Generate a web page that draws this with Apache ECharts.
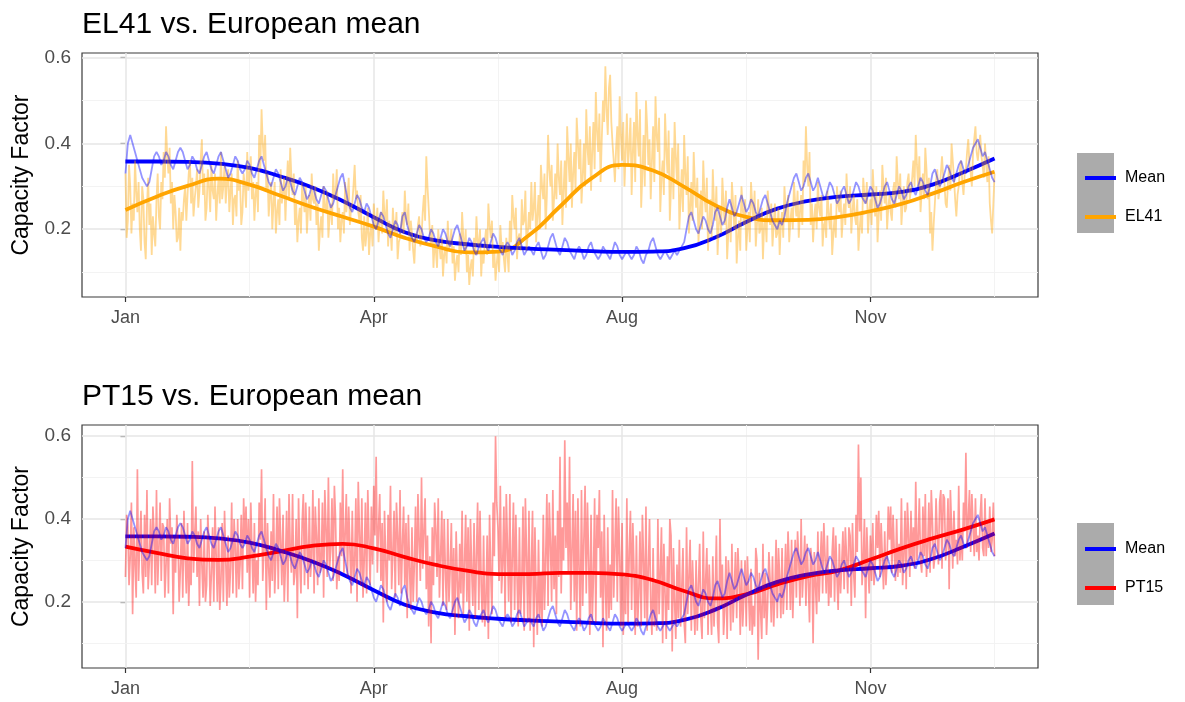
<!DOCTYPE html>
<html><head><meta charset="utf-8">
<script src="https://cdn.jsdelivr.net/npm/echarts@6/dist/echarts.min.js"></script>
<style>html,body{margin:0;padding:0;background:#fff}#c{width:1185px;height:702px}</style>
</head><body><div id="c"></div>
<script>
// Daily European mean capacity factor (day index 0..364)
const meanDaily = [
0.33,0.40,0.42,0.40,0.38,0.36,0.34,0.32,0.31,0.30,
0.31,0.34,0.37,0.38,0.37,0.35,0.36,0.38,0.37,0.35,
0.34,0.36,0.38,0.39,0.38,0.36,0.34,0.35,0.37,0.36,
0.34,0.33,0.35,0.37,0.38,0.36,0.34,0.33,0.35,0.37,
0.38,0.36,0.34,0.32,0.33,0.35,0.37,0.36,0.34,0.33,
0.34,0.36,0.35,0.33,0.32,0.34,0.36,0.37,0.35,0.33,
0.31,0.30,0.32,0.34,0.33,0.31,0.29,0.30,0.32,0.31,
0.29,0.28,0.30,0.32,0.31,0.29,0.27,0.28,0.30,0.29,
0.27,0.26,0.28,0.30,0.29,0.27,0.25,0.26,0.28,0.30,
0.32,0.33,0.30,0.27,0.25,0.24,0.26,0.28,0.27,0.25,
0.24,0.26,0.25,0.23,0.21,0.20,0.22,0.24,0.23,0.21,
0.19,0.18,0.20,0.22,0.21,0.19,0.23,0.24,0.21,0.19,
0.18,0.17,0.19,0.21,0.20,0.18,0.17,0.18,0.20,0.19,
0.17,0.16,0.18,0.20,0.19,0.17,0.16,0.18,0.20,0.21,
0.19,0.17,0.15,0.16,0.18,0.17,0.15,0.14,0.16,0.17,
0.18,0.16,0.15,0.17,0.19,0.18,0.16,0.15,0.14,0.16,
0.17,0.16,0.14,0.15,0.17,0.18,0.16,0.14,0.15,0.16,
0.15,0.14,0.16,0.17,0.15,0.13,0.14,0.16,0.18,0.19,
0.17,0.15,0.14,0.16,0.18,0.17,0.15,0.14,0.13,0.15,
0.16,0.15,0.13,0.14,0.16,0.17,0.15,0.14,0.13,0.14,
0.16,0.15,0.14,0.13,0.15,0.17,0.16,0.14,0.13,0.14,
0.15,0.14,0.13,0.14,0.16,0.15,0.13,0.12,0.14,0.15,
0.17,0.18,0.16,0.14,0.13,0.14,0.15,0.14,0.13,0.14,
0.15,0.14,0.15,0.16,0.17,0.20,0.23,0.24,0.22,0.20,
0.19,0.21,0.23,0.22,0.20,0.19,0.21,0.24,0.25,0.23,
0.21,0.22,0.25,0.27,0.25,0.23,0.24,0.26,0.28,0.26,
0.24,0.25,0.27,0.26,0.24,0.23,0.25,0.27,0.28,0.26,
0.24,0.22,0.21,0.20,0.22,0.21,0.23,0.26,0.28,0.30,
0.32,0.33,0.31,0.29,0.30,0.32,0.33,0.31,0.29,0.30,
0.32,0.30,0.28,0.27,0.29,0.31,0.30,0.28,0.26,0.27,
0.29,0.30,0.28,0.26,0.27,0.29,0.31,0.30,0.28,0.27,
0.26,0.28,0.30,0.29,0.27,0.25,0.26,0.28,0.30,0.31,
0.29,0.27,0.26,0.28,0.30,0.29,0.27,0.28,0.30,0.31,
0.29,0.28,0.30,0.32,0.31,0.29,0.28,0.30,0.33,0.34,
0.32,0.30,0.31,0.33,0.35,0.34,0.32,0.31,0.33,0.35,
0.36,0.34,0.33,0.35,0.37,0.39,0.40,0.41,0.39,0.37,
0.38,0.36,0.34,0.32,0.31];

// EL41 capacity factor, readings at day i (00h)
const el41Daily = [
0.33,0.22,0.30,0.26,0.36,0.24,0.20,0.30,0.17,0.25,
0.21,0.14,0.19,0.27,0.23,0.31,0.38,0.44,0.33,0.26,
0.20,0.24,0.18,0.15,0.22,0.30,0.28,0.36,0.32,0.27,
0.34,0.29,0.41,0.33,0.25,0.30,0.35,0.27,0.22,0.32,
0.38,0.30,0.26,0.34,0.29,0.21,0.28,0.36,0.31,0.24,
0.30,0.38,0.33,0.27,0.22,0.31,0.42,0.48,0.36,0.29,
0.23,0.31,0.26,0.19,0.27,0.34,0.29,0.22,0.36,0.39,
0.28,0.21,0.17,0.25,0.31,0.24,0.19,0.28,0.33,0.26,
0.21,0.15,0.23,0.30,0.24,0.18,0.26,0.33,0.28,0.20,
0.17,0.24,0.31,0.27,0.21,0.26,0.35,0.29,0.22,0.18,
0.23,0.19,0.14,0.21,0.26,0.20,0.17,0.24,0.29,0.22,
0.16,0.20,0.25,0.19,0.13,0.18,0.24,0.29,0.21,0.15,
0.19,0.12,0.17,0.23,0.18,0.28,0.37,0.25,0.16,0.11,
0.15,0.20,0.13,0.09,0.16,0.22,0.17,0.12,0.08,0.14,
0.19,0.24,0.15,0.10,0.07,0.13,0.18,0.23,0.16,0.09,
0.12,0.20,0.26,0.18,0.11,0.08,0.15,0.21,0.17,0.10,
0.14,0.22,0.28,0.20,0.13,0.19,0.27,0.22,0.15,0.24,
0.31,0.25,0.17,0.28,0.35,0.27,0.20,0.42,0.30,0.22,
0.33,0.40,0.28,0.21,0.36,0.44,0.31,0.25,0.38,0.46,
0.34,0.26,0.40,0.48,0.35,0.29,0.45,0.52,0.38,0.31,
0.50,0.58,0.42,0.56,0.40,0.31,0.44,0.51,0.36,0.30,
0.47,0.39,0.28,0.45,0.52,0.37,0.25,0.42,0.50,0.35,
0.27,0.44,0.51,0.38,0.24,0.36,0.47,0.33,0.22,0.39,
0.45,0.31,0.20,0.34,0.42,0.28,0.19,0.31,0.38,0.25,
0.17,0.29,0.36,0.24,0.15,0.27,0.34,0.22,0.14,0.25,
0.32,0.21,0.13,0.24,0.31,0.20,0.12,0.22,0.30,0.21,
0.15,0.24,0.31,0.22,0.16,0.27,0.20,0.13,0.23,0.29,
0.21,0.16,0.26,0.19,0.14,0.24,0.30,0.22,0.17,0.25,
0.31,0.23,0.18,0.28,0.36,0.44,0.30,0.21,0.17,0.26,
0.31,0.23,0.16,0.22,0.29,0.20,0.14,0.23,0.30,0.24,
0.18,0.26,0.33,0.25,0.19,0.28,0.21,0.15,0.24,0.32,
0.26,0.19,0.27,0.34,0.23,0.17,0.29,0.35,0.26,0.20,
0.28,0.22,0.31,0.37,0.27,0.21,0.30,0.25,0.33,0.29,
0.36,0.42,0.30,0.24,0.33,0.39,0.27,0.19,0.15,0.26,
0.34,0.29,0.37,0.31,0.25,0.35,0.40,0.32,0.23,0.30,
0.36,0.28,0.34,0.41,0.33,0.38,0.44,0.36,0.42,0.35,
0.40,0.31,0.26,0.19,0.33];

// EL41 capacity factor, readings at day i + 0.5 (12h), i = 0..363
const el41Mid = [
0.18,0.35,0.19,0.22,0.29,0.31,0.15,0.27,0.13,0.32,
0.26,0.23,0.16,0.33,0.20,0.27,0.32,0.37,0.39,0.31,
0.28,0.17,0.25,0.24,0.27,0.22,0.33,0.26,0.23,0.30,
0.25,0.36,0.28,0.22,0.34,0.24,0.29,0.33,0.28,0.26,
0.27,0.35,0.31,0.24,0.33,0.27,0.23,0.29,0.21,0.33,
0.25,0.29,0.37,0.31,0.28,0.24,0.34,0.40,0.42,0.33,
0.28,0.20,0.31,0.24,0.21,0.26,0.32,0.30,0.27,0.32,
0.33,0.26,0.22,0.19,0.27,0.30,0.25,0.22,0.27,0.30,
0.26,0.20,0.18,0.25,0.29,0.23,0.21,0.27,0.34,0.25,
0.22,0.19,0.24,0.32,0.25,0.30,0.27,0.24,0.28,0.15,
0.16,0.25,0.19,0.16,0.22,0.25,0.22,0.19,0.23,0.27,
0.22,0.15,0.20,0.24,0.17,0.21,0.19,0.23,0.26,0.22,
0.15,0.19,0.21,0.16,0.24,0.22,0.30,0.19,0.21,0.17,
0.11,0.16,0.18,0.14,0.12,0.15,0.20,0.16,0.12,0.10,
0.14,0.18,0.20,0.14,0.11,0.09,0.14,0.17,0.20,0.15,
0.17,0.14,0.21,0.22,0.15,0.12,0.10,0.16,0.13,0.18,
0.10,0.17,0.23,0.25,0.18,0.15,0.21,0.29,0.19,0.20,
0.22,0.31,0.23,0.20,0.30,0.33,0.28,0.34,0.35,0.27,
0.27,0.32,0.36,0.29,0.25,0.37,0.40,0.33,0.29,0.40,
0.41,0.32,0.30,0.39,0.44,0.38,0.34,0.43,0.47,0.41,
0.45,0.48,0.53,0.45,0.36,0.39,0.34,0.42,0.45,0.38,
0.35,0.46,0.38,0.31,0.42,0.48,0.33,0.30,0.44,0.41,
0.36,0.31,0.42,0.46,0.32,0.28,0.39,0.43,0.30,0.27,
0.37,0.40,0.27,0.24,0.33,0.37,0.25,0.22,0.30,0.32,
0.23,0.20,0.28,0.32,0.22,0.18,0.26,0.30,0.21,0.19,
0.26,0.29,0.19,0.17,0.26,0.28,0.18,0.15,0.25,0.27,
0.20,0.17,0.26,0.29,0.21,0.19,0.25,0.21,0.17,0.25,
0.26,0.21,0.18,0.25,0.21,0.18,0.25,0.28,0.22,0.20,
0.26,0.29,0.24,0.21,0.31,0.35,0.38,0.26,0.23,0.20,
0.25,0.28,0.21,0.18,0.24,0.26,0.19,0.18,0.26,0.29,
0.23,0.21,0.27,0.30,0.24,0.23,0.27,0.20,0.19,0.28,
0.31,0.24,0.21,0.28,0.30,0.23,0.22,0.30,0.32,0.25,
0.24,0.29,0.25,0.31,0.33,0.26,0.24,0.31,0.27,0.32,
0.30,0.35,0.37,0.29,0.27,0.34,0.32,0.24,0.21,0.31,
0.27,0.33,0.32,0.26,0.31,0.29,0.36,0.27,0.28,0.34,
0.31,0.33,0.38,0.35,0.30,0.41,0.38,0.39,0.37,0.32,
0.35,0.37,0.22,0.26];

// PT15 capacity factor, readings at day i (00h)
const pt15Daily = [
0.26,0.38,0.31,0.17,0.29,0.52,0.35,0.27,0.41,0.47,
0.30,0.24,0.36,0.47,0.33,0.25,0.38,0.29,0.22,0.34,
0.17,0.27,0.35,0.28,0.21,0.31,0.39,0.30,0.54,0.36,
0.26,0.19,0.29,0.37,0.24,0.33,0.27,0.20,0.31,0.38,
0.25,0.20,0.30,0.36,0.28,0.22,0.33,0.40,0.29,0.23,
0.35,0.27,0.21,0.32,0.39,0.30,0.44,0.52,0.33,0.18,
0.28,0.37,0.46,0.31,0.23,0.35,0.41,0.29,0.20,0.33,
0.46,0.27,0.16,0.30,0.39,0.24,0.34,0.43,0.31,0.22,
0.36,0.45,0.29,0.21,0.38,0.50,0.33,0.25,0.40,0.31,
0.44,0.52,0.36,0.26,0.33,0.42,0.29,0.20,0.37,0.45,
0.30,0.22,0.35,0.43,0.48,0.55,0.38,0.25,0.15,0.30,
0.41,0.48,0.32,0.21,0.36,0.47,0.34,0.24,0.16,0.28,
0.38,0.29,0.20,0.35,0.50,0.37,0.23,0.14,0.10,0.24,
0.37,0.45,0.31,0.19,0.27,0.40,0.28,0.17,0.12,0.25,
0.34,0.42,0.29,0.20,0.13,0.28,0.39,0.31,0.18,0.24,
0.36,0.20,0.11,0.27,0.44,0.60,0.38,0.48,0.29,0.16,
0.33,0.46,0.30,0.18,0.26,0.38,0.25,0.13,0.31,0.42,
0.28,0.09,0.22,0.35,0.27,0.41,0.30,0.19,0.34,0.47,
0.36,0.42,0.55,0.38,0.59,0.44,0.55,0.32,0.20,0.13,
0.28,0.47,0.35,0.22,0.30,0.41,0.26,0.15,0.33,0.21,
0.09,0.24,0.38,0.29,0.47,0.33,0.20,0.31,0.39,0.26,
0.45,0.32,0.18,0.27,0.36,0.22,0.14,0.30,0.43,0.28,
0.19,0.33,0.25,0.40,0.27,0.10,0.22,0.31,0.40,0.08,
0.20,0.29,0.35,0.23,0.15,0.38,0.26,0.13,0.21,0.30,
0.24,0.16,0.37,0.25,0.12,0.20,0.31,0.22,0.15,0.40,
0.29,0.18,0.11,0.24,0.34,0.23,0.16,0.26,0.30,0.21,
0.14,0.22,0.28,0.19,0.33,0.06,0.18,0.34,0.27,0.20,
0.25,0.31,0.22,0.16,0.26,0.33,0.24,0.18,0.29,0.35,
0.27,0.21,0.30,0.40,0.28,0.19,0.25,0.33,0.10,0.24,
0.37,0.29,0.22,0.31,0.36,0.27,0.32,0.20,0.26,0.34,
0.29,0.23,0.31,0.38,0.19,0.27,0.41,0.58,0.50,0.30,
0.16,0.29,0.36,0.39,0.28,0.33,0.26,0.31,0.37,0.30,
0.35,0.27,0.32,0.40,0.34,0.45,0.31,0.23,0.36,0.42,
0.38,0.49,0.35,0.30,0.43,0.46,0.33,0.27,0.39,0.31,
0.36,0.44,0.28,0.45,0.34,0.23,0.38,0.42,0.35,0.48,
0.37,0.44,0.56,0.40,0.32,0.38,0.45,0.36,0.41,0.33,
0.45,0.39,0.43,0.35,0.31];

// PT15 capacity factor, readings at day i + 0.5 (12h), i = 0..363
const pt15Mid = [
0.41,0.24,0.44,0.38,0.21,0.25,0.42,0.22,0.26,0.23,
0.40,0.43,0.22,0.24,0.44,0.39,0.21,0.40,0.45,0.38,
0.36,0.41,0.20,0.39,0.42,0.22,0.19,0.24,0.27,0.43,
0.37,0.40,0.21,0.20,0.41,0.19,0.38,0.43,0.20,0.18,
0.39,0.42,0.19,0.21,0.44,0.40,0.21,0.23,0.41,0.45,
0.43,0.40,0.44,0.22,0.20,0.24,0.35,0.25,0.45,0.39,
0.21,0.25,0.22,0.43,0.45,0.24,0.20,0.42,0.46,0.27,
0.24,0.40,0.45,0.22,0.46,0.44,0.23,0.26,0.47,0.43,
0.24,0.27,0.44,0.47,0.26,0.28,0.45,0.48,0.23,0.25,
0.31,0.27,0.46,0.43,0.22,0.25,0.45,0.49,0.24,0.21,
0.44,0.47,0.24,0.29,0.36,0.27,0.46,0.39,0.42,0.20,
0.30,0.23,0.42,0.44,0.24,0.22,0.43,0.39,0.41,0.18,
0.20,0.43,0.46,0.25,0.28,0.45,0.36,0.31,0.38,0.44,
0.26,0.21,0.42,0.40,0.18,0.20,0.39,0.33,0.37,0.16,
0.22,0.17,0.41,0.38,0.40,0.19,0.16,0.44,0.42,0.15,
0.14,0.36,0.41,0.17,0.31,0.44,0.25,0.22,0.43,0.46,
0.20,0.15,0.44,0.41,0.14,0.17,0.43,0.45,0.15,0.13,
0.42,0.38,0.12,0.16,0.14,0.18,0.46,0.44,0.20,0.23,
0.17,0.26,0.22,0.30,0.33,0.27,0.18,0.46,0.42,0.45,
0.14,0.19,0.48,0.44,0.12,0.15,0.45,0.41,0.47,0.37,
0.41,0.13,0.16,0.18,0.21,0.45,0.43,0.14,0.12,0.17,
0.15,0.42,0.39,0.12,0.14,0.37,0.41,0.16,0.13,0.40,
0.12,0.14,0.13,0.17,0.38,0.34,0.11,0.18,0.36,0.33,
0.11,0.16,0.14,0.33,0.10,0.17,0.35,0.30,0.12,0.13,
0.34,0.11,0.16,0.33,0.29,0.12,0.14,0.36,0.10,0.19,
0.12,0.31,0.30,0.13,0.15,0.32,0.33,0.12,0.14,0.30,
0.31,0.13,0.12,0.14,0.30,0.27,0.11,0.16,0.12,0.32,
0.15,0.14,0.35,0.33,0.16,0.17,0.34,0.37,0.18,0.16,
0.35,0.37,0.19,0.21,0.36,0.34,0.15,0.30,0.32,0.17,
0.20,0.37,0.39,0.22,0.19,0.21,0.38,0.36,0.18,0.22,
0.37,0.38,0.22,0.36,0.39,0.21,0.32,0.37,0.24,0.40,
0.38,0.22,0.25,0.24,0.41,0.42,0.39,0.23,0.24,0.43,
0.43,0.41,0.25,0.26,0.27,0.24,0.42,0.44,0.26,0.29,
0.28,0.30,0.45,0.27,0.31,0.26,0.44,0.47,0.28,0.45,
0.29,0.47,0.46,0.30,0.45,0.47,0.28,0.31,0.29,0.30,
0.30,0.37,0.33,0.47,0.46,0.31,0.32,0.30,0.46,0.31,
0.31,0.33,0.32,0.44];

// Smoothed (loess) curves, sampled every 13 days
const smoothDays = [0,13,26,39,52,65,78,91,104,117,130,143,156,169,182,195,208,221,234,247,260,273,286,299,312,325,338,351,364];
const meanSmooth = [0.358,0.358,0.357,0.353,0.343,0.323,0.298,0.266,0.228,0.193,0.174,0.165,0.159,0.155,0.152,0.149,0.147,0.148,0.156,0.181,0.217,0.248,0.266,0.276,0.281,0.287,0.304,0.333,0.365];
const el41Smooth = [0.245,0.276,0.301,0.318,0.304,0.278,0.252,0.229,0.206,0.180,0.160,0.146,0.148,0.186,0.253,0.318,0.350,0.337,0.299,0.256,0.229,0.221,0.222,0.229,0.242,0.259,0.283,0.310,0.334];
const pt15Smooth = [0.333,0.318,0.305,0.301,0.309,0.322,0.335,0.340,0.329,0.308,0.289,0.275,0.267,0.267,0.270,0.270,0.266,0.252,0.226,0.208,0.218,0.242,0.262,0.276,0.302,0.329,0.353,0.375,0.399];

// Axis ticks
const xTickDays = [0,104,208,312];
const xTickLabels = ['Jan','Apr','Aug','Nov'];
const xMinorDays = [52,156,260,364];
const yTicks = [0.2,0.4,0.6];
const yMinor = [0.1,0.3,0.5];

const X_MIN = -18.2, X_MAX = 382.2;
const Y_RANGES = [[0.042,0.611],[0.040,0.627]];

const FONT = 'Liberation Sans, Arial, Helvetica, sans-serif';

function daily(arr){ return arr.map((v,i)=>[i,v]); }
function twiceDaily(day, mid){
  const out = [];
  day.forEach((v,i)=>{ out.push([i,v]); if(i<mid.length) out.push([i+0.5, mid[i]]); });
  return out;
}
function smooth(vals){ return smoothDays.map((d,i)=>[d,vals[i]]); }

const chart = echarts.init(document.getElementById('c'), null, {renderer:'canvas'});

const grids = [
  {left:82, top:53, width:956, height:244},
  {left:82, top:425, width:956, height:243}
].map(g=>Object.assign({show:true, borderColor:'#3a3a3a', borderWidth:1.2, backgroundColor:'#fff'}, g));

const xAxes = [0,1].map(i=>({
  type:'value', gridIndex:i, min:X_MIN, max:X_MAX,
  axisLine:{show:false},
  splitLine:{show:false},
  axisTick:{show:true, customValues:xTickDays, length:5, lineStyle:{color:'#333', width:1.2}},
  axisLabel:{show:true, customValues:xTickDays, margin:12, fontSize:18, color:'#4d4d4d', fontFamily:FONT,
    formatter:(v)=>{const k=xTickDays.indexOf(Math.round(v)); return k>=0?xTickLabels[k]:'';}}
}));

const yAxes = [0,1].map(i=>({
  type:'value', gridIndex:i, min:Y_RANGES[i][0], max:Y_RANGES[i][1],
  axisLine:{show:false},
  splitLine:{show:false},
  axisTick:{show:true, customValues:yTicks, length:5, lineStyle:{color:'#333', width:1.2}},
  axisLabel:{show:true, customValues:yTicks, margin:11, fontSize:19, color:'#4d4d4d', fontFamily:FONT,
    formatter:(v)=>v.toFixed(1)},
  name:'Capacity Factor', nameLocation:'middle', nameGap:49, nameRotate:90,
  nameTextStyle:{fontSize:23, color:'#000', fontFamily:FONT}
}));

function gridSeries(i){
  const major = {color:'#e6e6e6', width:1.5, type:'solid'};
  const minor = {color:'#f2f2f2', width:0.9, type:'solid'};
  const data = [];
  xTickDays.forEach(d=>data.push({xAxis:d, lineStyle:major}));
  xMinorDays.forEach(d=>data.push({xAxis:d, lineStyle:minor}));
  yTicks.forEach(v=>data.push({yAxis:v, lineStyle:major}));
  yMinor.forEach(v=>data.push({yAxis:v, lineStyle:minor}));
  return {type:'line', name:'grid'+i, xAxisIndex:i, yAxisIndex:i, data:[], z:1, silent:true,
    markLine:{silent:true, z:1, symbol:['none','none'], label:{show:false}, animation:false, data:data}};
}

function panel(i, regionName, regionDaily, regionMid, regionSmooth, solid, translucent, w){
  return [
    gridSeries(i),
    {type:'line', name:regionName, color:solid, xAxisIndex:i, yAxisIndex:i, data:smooth(regionSmooth), smooth:true, showSymbol:false, lineStyle:{color:solid, width:3.8}, z:3},
    {type:'line', name:'Mean', color:'#0000ff', xAxisIndex:i, yAxisIndex:i, data:smooth(meanSmooth), smooth:true, showSymbol:false, lineStyle:{color:'#0000ff', width:3.8}, z:3},
    {type:'line', name:regionName+' daily', xAxisIndex:i, yAxisIndex:i, data:twiceDaily(regionDaily, regionMid), showSymbol:false, sampling:null, lineStyle:{color:translucent, width:w}, z:4},
    {type:'line', name:'Mean daily', xAxisIndex:i, yAxisIndex:i, data:daily(meanDaily), showSymbol:false, lineStyle:{color:'rgba(0,0,255,0.42)', width:1.8}, z:4}
  ];
}

const series = [].concat(
  panel(0,'EL41', el41Daily, el41Mid, el41Smooth, '#ffa500', 'rgba(255,165,0,0.42)', 1.8),
  panel(1,'PT15', pt15Daily, pt15Mid, pt15Smooth, '#ff0000', 'rgba(255,0,0,0.40)', 1.7)
);

const legendCommon = {orient:'vertical', left:1080, itemWidth:31, itemHeight:4, itemGap:21, icon:'rect',
  selectedMode:false, textStyle:{fontSize:16, color:'#000', fontFamily:FONT, lineHeight:18, padding:[0,0,0,4]}};

chart.setOption({
  animation:false,
  backgroundColor:'#fff',
  title:[
    {text:'EL41 vs. European mean', left:77, top:5, textStyle:{fontSize:30, fontWeight:'normal', color:'#000', fontFamily:FONT}},
    {text:'PT15 vs. European mean', left:77, top:377, textStyle:{fontSize:30, fontWeight:'normal', color:'#000', fontFamily:FONT}}
  ],
  grid:grids,
  xAxis:xAxes,
  yAxis:yAxes,
  legend:[
    Object.assign({top:164, data:['Mean','EL41']}, legendCommon),
    Object.assign({top:535, data:['Mean','PT15']}, legendCommon)
  ],
  graphic:[
    {type:'rect', shape:{x:1077, y:153, width:37, height:80}, style:{fill:'#ababab'}, z:-1},
    {type:'rect', shape:{x:1077, y:523, width:37, height:82}, style:{fill:'#ababab'}, z:-1}
  ],
  series:series
});
</script></body></html>
